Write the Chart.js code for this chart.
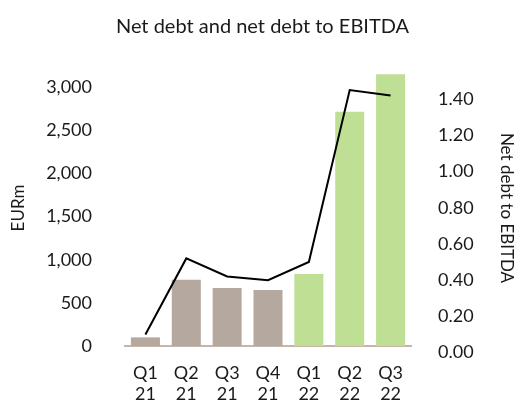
<!DOCTYPE html>
<html>
<head>
<meta charset="utf-8">
<script src="https://cdn.jsdelivr.net/npm/chart.js@4"></script>
<style>
  html, body { margin: 0; padding: 0; background: #fff; }
  #wrap { width: 520px; height: 402px; }
</style>
</head>
<body>
<div id="wrap"><canvas id="chart" width="520" height="402"></canvas></div>
<script>
// 四半期ラベル
const quarters = [["Q1", "21"], ["Q2", "21"], ["Q3", "21"], ["Q4", "21"], ["Q1", "22"], ["Q2", "22"], ["Q3", "22"]];
// 純有利子負債 (EURm)
const netDebt = [100, 768, 672, 650, 835, 2715, 3150];
// 純有利子負債 / EBITDA
const debtToEbitda = [0.10, 0.52, 0.42, 0.40, 0.50, 1.45, 1.42];
// 目盛り
const leftTicks = [0, 500, 1000, 1500, 2000, 2500, 3000];
const rightTicks = [0, 0.2, 0.4, 0.6, 0.8, 1.0, 1.2, 1.4];
const barColors = ["#b5a89e", "#b5a89e", "#b5a89e", "#b5a89e", "#bfdf95", "#bfdf95", "#bfdf95"];

const FONT = "Lato";
const TEXT = "#1a1a1a";

Chart.defaults.font.family = FONT;
Chart.defaults.color = TEXT;

new Chart(document.getElementById("chart"), {
  type: "bar",
  data: {
    labels: quarters,
    datasets: [
      {
        type: "line",
        label: "Net debt to EBITDA",
        data: debtToEbitda,
        yAxisID: "y1",
        borderColor: "#000",
        borderWidth: 2,
        pointRadius: 0,
        tension: 0,
        order: 0,
      },
      {
        label: "Net debt",
        data: netDebt,
        yAxisID: "y",
        backgroundColor: barColors,
        categoryPercentage: 1,
        barPercentage: 0.71,
        order: 1,
      },
    ],
  },
  options: {
    responsive: false,
    animation: false,
    layout: { padding: { left: 8, right: 3, top: 15, bottom: 0 } },
    plugins: {
      legend: { display: false },
      tooltip: { enabled: false },
      title: {
        display: true,
        text: "Net debt and net debt to EBITDA",
        font: { size: 20, weight: "normal" },
        color: TEXT,
        padding: { top: 0, bottom: 31 },
      },
    },
    scales: {
      x: {
        grid: { display: false, drawTicks: false },
        border: { display: true, color: "#c4b6aa", width: 2 },
        ticks: { font: { size: 18, lineHeight: 1.15 }, padding: 17, maxRotation: 0 },
        afterFit: axis => { axis.height = 56; },
      },
      y: {
        position: "left",
        min: 0,
        max: 3200,
        grid: { display: false, drawTicks: false },
        border: { display: false },
        afterBuildTicks: axis => { axis.ticks = leftTicks.map(v => ({ value: v })); },
        afterFit: axis => { axis.width = 117; },
        ticks: {
          padding: 33,
          font: { size: 18 },
          callback: v => v.toLocaleString("en-US"),
        },
        title: { display: true, text: "EURm", font: { size: 17 }, padding: { top: 0, bottom: 4 } },
      },
      y1: {
        position: "right",
        // 元図では右軸の 0.00 が横軸より少し下にある
        min: 0.036,
        max: 1.561,
        grid: { display: false, drawTicks: false },
        border: { display: false },
        afterBuildTicks: axis => { axis.ticks = rightTicks.map(v => ({ value: v })); },
        afterFit: axis => { axis.width = 106; },
        ticks: {
          padding: 27,
          font: { size: 18 },
          callback: v => v.toFixed(2),
        },
        title: { display: true, text: "Net debt to EBITDA", font: { size: 17 }, padding: { top: 0, bottom: 8 } },
      },
    },
  },
});
</script>
</body>
</html>
